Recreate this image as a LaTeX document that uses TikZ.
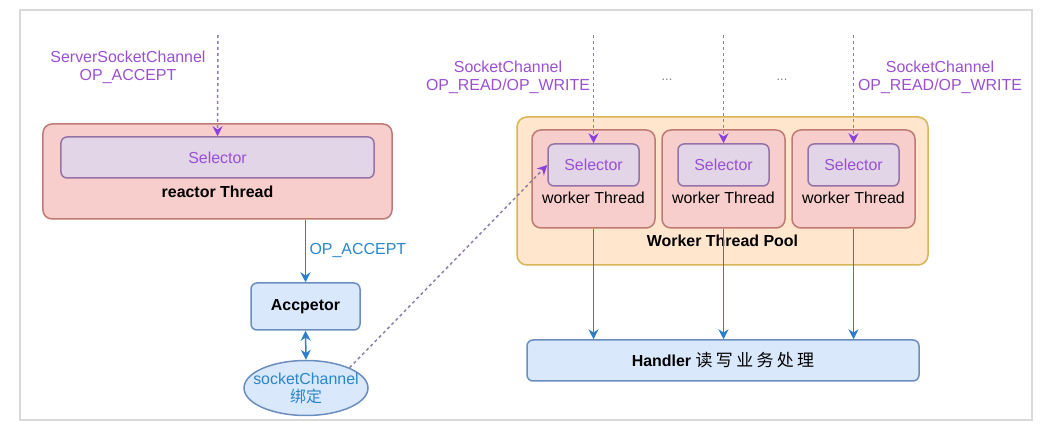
\documentclass[tikz,border=0pt]{standalone}
\usepackage{fontspec}
\setmainfont{Liberation Sans}
\newfontfamily\cjk{Noto Sans CJK SC}
\newfontfamily\cjkwide[LetterSpace=20]{Noto Sans CJK SC}
\usetikzlibrary{shapes.geometric,arrows.meta}

\definecolor{pinkFill}{HTML}{F8CECC}
\definecolor{pinkLine}{HTML}{BF7A74}
\definecolor{selFill}{HTML}{E1D5E7}
\definecolor{selLine}{HTML}{9673A6}
\definecolor{blueFill}{HTML}{DAE8FC}
\definecolor{blueLine}{HTML}{6C8EBF}
\definecolor{poolFill}{HTML}{FFE6CC}
\definecolor{poolLine}{HTML}{D6B656}
\definecolor{purpleText}{HTML}{9A4FD3}
\definecolor{purpleTip}{HTML}{8A3FE0}
\definecolor{dashGray}{HTML}{8E7FA6}
\definecolor{blueText}{HTML}{2A86C9}
\definecolor{blueArrowC}{HTML}{2C7FCE}
\definecolor{frameGray}{HTML}{D9D9D9}

\begin{document}
\begin{tikzpicture}
[x=1bp,y=-1bp,
  font=\fontsize{16}{18}\selectfont,
  pinkBox/.style={draw=pinkLine,fill=pinkFill,rounded corners=9bp,line width=1.5bp},%
  selBox/.style={draw=selLine,fill=selFill,rounded corners=6bp,line width=1.5bp,text=purpleText},%
  blueBox/.style={draw=blueLine,fill=blueFill,rounded corners=6bp,line width=1.5bp},%
  poolBox/.style={draw=poolLine,fill=poolFill,rounded corners=10bp,line width=1.5bp},%
  purpleLabel/.style={text=purpleText,align=center},%
  tipShape/.style={Stealth[length=10bp,width=10bp]},%
  blueArrow/.style={-{Stealth[length=10bp,width=10bp]},line width=1.5bp,color=blueArrowC},%
  dashArrow/.style={-{Stealth[length=10bp,width=10bp,color=purpleTip]},dashed,
    dash pattern=on 3bp off 3bp,line width=1.5bp,color=dashGray}]
\useasboundingbox (0,0) rectangle (1052,434);
%% outer frame
\draw[frameGray,line width=2bp] (20,10) rectangle (1032,420);
%% reactor side
\node (reactor) at (217.5,171.5) [pinkBox,minimum width=349bp,minimum height=95bp] {};
\node (reactorSel) at (217.5,157.5) [selBox,minimum width=313bp,minimum height=41bp] {Selector};
\node (reactorTxt) at (217.5,192) {\bfseries reactor Thread};
\node (acceptor) at (305.5,306.5) [blueBox,minimum width=109bp,minimum height=47bp] {\bfseries Accpetor};
\node (channel) at (306,388) [ellipse,draw=blueLine,fill=blueFill,line width=1.5bp,
  minimum width=124bp,minimum height=55bp] {};
\node (channelTxt) at (306,388) [text=blueText,align=center] {socketChannel\\{\cjk 绑定}};
\node (serverTxt) at (128,67) [purpleLabel] {ServerSocketChannel\\OP\_ACCEPT};
\coordinate (in0) at (218,35);
%% worker side
\node (pool) at (722.5,191) [poolBox,minimum width=411bp,minimum height=148bp] {};
\node (poolTxt) at (722.5,241) {\bfseries Worker Thread Pool};
\foreach \i/\x in {1/593.5, 2/723.5, 3/853.5}
{
  \node (worker\i) at (\x,179) [pinkBox,minimum width=123bp,minimum height=98bp] {};
  \node (sel\i) at (\x,165) [selBox,minimum width=91bp,minimum height=42bp] {Selector};
  \node (workerTxt\i) at (\x,198) {worker Thread};
  \coordinate (in\i) at (\x,35);
}
\node (handler) at (723,360.5) [blueBox,minimum width=392bp,minimum height=41bp]
  {\bfseries Handler\ \mdseries{\cjkwide\fontsize{17}{18}\selectfont 读写业务处理}};
\node (readTxtL) at (508,77) [purpleLabel] {SocketChannel\\OP\_READ/OP\_WRITE};
\node (readTxtR) at (940,77) [purpleLabel] {SocketChannel\\OP\_READ/OP\_WRITE};
\node (dotsA) at (667,80) [text=gray,font=\fontsize{13}{14}\selectfont] {...};
\node (dotsB) at (782,80) [text=gray,font=\fontsize{13}{14}\selectfont] {...};
%% dashed inputs
\draw[dashArrow] (in0) -- (reactorSel.north);
\foreach \i in {1,2,3}
{
  \draw[dashArrow] (in\i) -- (sel\i.north);
}
\draw[dashArrow] (channel.25) -- (sel1.west);
%% solid arrows
\draw[blueArrow] (acceptor.north |- reactor.south) -- node[right,text=blueText] {OP\_ACCEPT} (acceptor.north);
\draw[blueArrow,{Stealth[length=10bp,width=10bp]}-{Stealth[length=10bp,width=10bp]}] (acceptor.south) -- (channel.north);
\foreach \i in {1,2,3}
{
  \draw[blueArrow] (worker\i.south) -- (worker\i.south |- handler.north);
}
\end{tikzpicture}
\end{document}
